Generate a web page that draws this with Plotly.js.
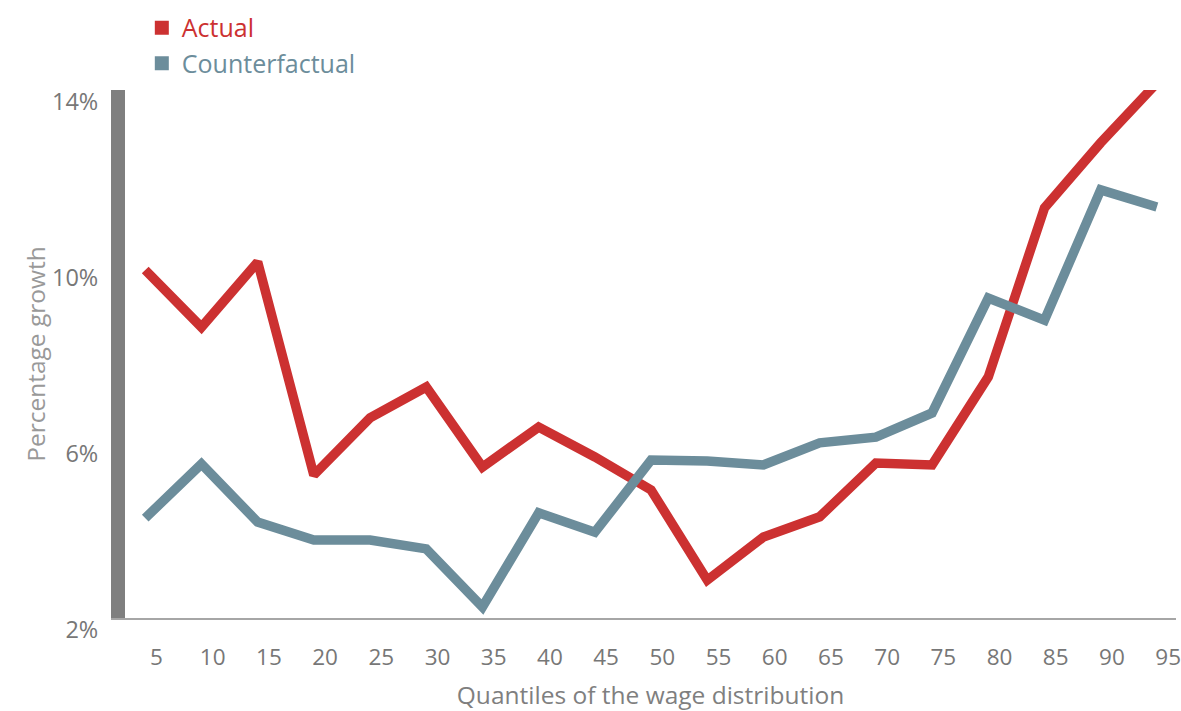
<!DOCTYPE html>
<html>
<head>
<meta charset="utf-8">
<script src="https://cdn.plot.ly/plotly-3.0.1.min.js"></script>
<style>html,body{margin:0;padding:0;background:#fff;}#chart{width:1181px;height:711px;}</style>
</head>
<body>
<div id="chart"></div>
<script>
const quantiles = [5,10,15,20,25,30,35,40,45,50,55,60,65,70,75,80,85,90,95];
const actual = [9.91,8.61,10.09,5.25,6.55,7.25,5.43,6.34,5.66,4.91,2.86,3.84,4.30,5.52,5.48,7.48,11.32,12.80,14.16];
const counterfactual = [4.27,5.50,4.18,3.77,3.77,3.57,2.25,4.39,3.95,5.59,5.57,5.48,5.98,6.11,6.66,9.27,8.77,11.73,11.34];
const yTicks = [2,6,10,14];
const yTickText = ['2%','6%','10%','14%'];

const RED = '#cc3131';
const BLUE = '#6c8d9b';
const FONT = 'Open Sans, sans-serif';
const LABEL_OFFSET = 1.0; // tick labels sit slightly right of the data points

const traces = [
  {x: quantiles, y: actual, type: 'scatter', mode: 'lines', name: 'Actual',
   line: {color: RED, width: 9.5}, showlegend: false, hoverinfo: 'x+y'},
  {x: quantiles, y: counterfactual, type: 'scatter', mode: 'lines', name: 'Counterfactual',
   line: {color: BLUE, width: 9.5}, showlegend: false, hoverinfo: 'x+y'},
  {x: [null], y: [null], type: 'scatter', mode: 'markers',
   name: '<span style="color:' + RED + '">Actual</span>',
   marker: {symbol: 'square', size: 14, color: RED}, legendgroup: 'a'},
  {x: [null], y: [null], type: 'scatter', mode: 'markers',
   name: '<span style="color:' + BLUE + '">Counterfactual</span>',
   marker: {symbol: 'square', size: 14, color: BLUE}, legendgroup: 'b'}
];

const layout = {
  width: 1181, height: 711,
  margin: {l: 125, r: 5, t: 90, b: 93, autoexpand: false},
  paper_bgcolor: '#ffffff', plot_bgcolor: '#ffffff',
  font: {family: FONT, color: '#7a7a7a', size: 23},
  showlegend: true,
  legend: {
    x: 0.016, y: 1.161, yanchor: 'top', xanchor: 'left',
    font: {size: 25},
    tracegroupgap: 0,
    bgcolor: 'rgba(0,0,0,0)'
  },
  xaxis: {
    automargin: false,
    range: [3.2, 96.7],
    tickmode: 'array', tickvals: quantiles.map(q => q + LABEL_OFFSET), ticktext: quantiles.map(String),
    showgrid: false, zeroline: false,
    showline: true, linecolor: '#a6a6a6', linewidth: 2,
    ticks: 'outside', ticklen: 18, tickcolor: 'rgba(0,0,0,0)',
    tickfont: {size: 22.5, color: '#777777'},
    title: {text: 'Quantiles of the wage distribution', font: {size: 24.5, color: '#7f7f7f'}, standoff: 16}
  },
  yaxis: {
    automargin: false,
    range: [2, 14],
    tickmode: 'array', tickvals: yTicks, ticktext: yTickText,
    showgrid: false, zeroline: false,
    showline: true, linecolor: '#7f7f7f', linewidth: 14,
    ticks: '', ticklabelstandoff: 8, ticklabelshift: 12,
    tickfont: {size: 23.5, color: '#777777'},
    title: {text: 'Percentage growth', font: {size: 24.5, color: '#999999'}, standoff: 0}
  }
};

Plotly.newPlot('chart', traces, layout, {displayModeBar: false, staticPlot: true});
</script>
</body>
</html>
